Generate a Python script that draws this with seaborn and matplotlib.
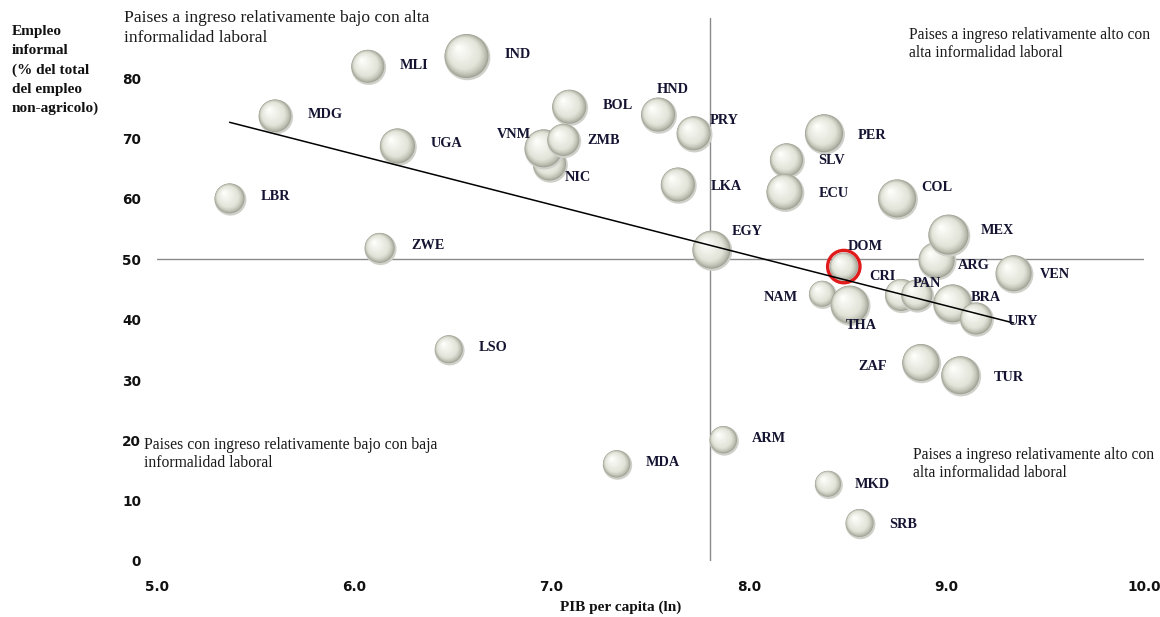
import numpy as np
import pandas as pd
import matplotlib
matplotlib.use("Agg")
import matplotlib.pyplot as plt
from matplotlib.colors import to_rgb
import seaborn as sns

# Country data: log GDP per capita, informal employment share, bubble weight
paises = ["MKD", "SRB", "MDA", "ARM", "LSO", "LBR", "ZWE", "MDG", "UGA", "MLI",
          "IND", "BOL", "NIC", "VNM", "ZMB", "HND", "PRY", "LKA", "EGY", "SLV",
          "PER", "ECU", "COL", "DOM", "NAM", "THA", "CRI", "PAN", "ARG", "MEX",
          "VEN", "BRA", "URY", "ZAF", "TUR"]
pib_ln = [8.40, 8.56, 7.33, 7.87, 6.48, 5.37, 6.13, 5.60, 6.22, 6.07,
          6.57, 7.09, 6.99, 6.96, 7.06, 7.54, 7.72, 7.64, 7.81, 8.19,
          8.38, 8.18, 8.75, 8.48, 8.37, 8.51, 8.77, 8.85, 8.95, 9.01,
          9.34, 9.03, 9.15, 8.87, 9.07]
informal = [12.8, 6.3, 16.1, 20.1, 35.1, 60.1, 51.9, 73.8, 68.8, 82.0,
            83.7, 75.3, 65.8, 68.4, 69.8, 74.0, 70.9, 62.4, 51.6, 66.5,
            70.9, 61.2, 60.1, 48.8, 44.3, 42.5, 44.1, 44.1, 49.9, 54.1,
            47.7, 42.7, 40.2, 32.9, 30.8]
peso = [13, 14, 13.7, 13.7, 14, 15, 15, 16.3, 17.5, 16.5,
        22, 17, 16.5, 19, 16, 17, 17, 17, 19, 16.5,
        19, 18, 19, 14, 13, 19, 16, 15.5, 18, 20,
        18, 19, 16, 18.5, 19]

x_ticks = [5.0, 6.0, 7.0, 8.0, 9.0, 10.0]
y_ticks = [0, 10, 20, 30, 40, 50, 60, 70, 80]
ref_pib = 7.8
ref_informal = 50
destacado = "DOM"

# label placement (offset in pixels from bubble centre, y down) and alignment
label_pos = {
    "IND": (38, -2, "left"), "MLI": (32, -1, "left"), "MDG": (33, -1, "left"),
    "UGA": (33, -2, "left"), "LBR": (31, -2, "left"), "ZWE": (32, -2, "left"),
    "LSO": (30, -2, "left"), "MDA": (29, -1, "left"), "ARM": (29, -1, "left"),
    "BOL": (33, -1, "left"), "VNM": (-13, -14, "right"), "NIC": (15, 13, "left"),
    "ZMB": (24, 1, "left"), "HND": (-1, -25, "left"), "PRY": (16, -13, "left"),
    "LKA": (33, 2, "left"), "EGY": (20, -18, "left"), "PER": (34, 2, "left"),
    "SLV": (32, 1, "left"), "ECU": (34, 2, "left"), "COL": (24, -11, "left"),
    "MEX": (32, -4, "left"), "ARG": (21, 6, "left"), "VEN": (26, 1, "left"),
    "DOM": (4, -20, "left"), "NAM": (-24, 4, "right"), "THA": (-4, 21, "left"),
    "CRI": (-6, -18, "right"), "PAN": (-4, -11, "left"), "BRA": (18, -6, "left"),
    "URY": (32, 3, "left"), "ZAF": (-34, 4, "right"), "TUR": (33, 2, "left"),
    "MKD": (27, 1, "left"), "SRB": (30, 2, "left"),
}

W, H, DPI = 1160, 617, 100
sns.set_theme(style="white")
plt.rcParams["font.family"] = ["Liberation Serif", "DejaVu Serif"]

fig = plt.figure(figsize=(W / DPI, H / DPI), dpi=DPI)
ax = fig.add_axes([156.5 / W, 56 / H, (1144 - 156.5) / W, (599 - 56) / H])
ax.set_xlim(5, 10)
ax.set_ylim(0, 90)

# pixel -> data scale factors
px_x = (10 - 5) / (1144 - 156.5)
px_y = 90 / (599 - 56)

# reference lines
ax.axhline(ref_informal, color="#8a8a8a", lw=1.0, zorder=1)
ax.axvline(ref_pib, color="#8a8a8a", lw=1.0, zorder=1)

# shaded spheres, one bubble at a time so overlaps occlude correctly
shadow_c = np.array(to_rgb("#cfd0c9"))
edge_c = np.array(to_rgb("#a0a295"))
body_c = np.array(to_rgb("#e2e4d9"))
hi_c = np.array(to_rgb("#fdfdf9"))
n_layers = 26
for i, (p, xv, yv, r) in enumerate(zip(paises, pib_ln, informal, peso)):
    rows = [{"x": xv + 0.8 * px_x, "y": yv - 1.2 * px_y, "capa": -1}]
    pal = {-1: tuple(shadow_c)}
    sz = {-1: (1.44 * (r + 1.0)) ** 2}
    for k in range(n_layers):
        t = k / (n_layers - 1)
        f = 1 - 0.9 * t
        shift = (1 - f) * 0.40 * r
        if t < 0.3:
            c = edge_c + (body_c - edge_c) * (t / 0.3) ** 0.7
        else:
            c = body_c + (hi_c - body_c) * ((t - 0.3) / 0.7) ** 1.0
        rows.append({"x": xv - shift * px_x, "y": yv + shift * px_y, "capa": k})
        pal[k] = tuple(c)
        sz[k] = (1.44 * r * f) ** 2
    df = pd.DataFrame(rows)
    sns.scatterplot(data=df, x="x", y="y", hue="capa", size="capa",
                    palette=pal, sizes=sz, linewidth=0, legend=False,
                    ax=ax, zorder=3 + i * 0.01)
    if p == destacado:
        sns.scatterplot(x=[xv], y=[yv], s=(1.44 * (r + 2.2)) ** 2,
                        facecolor="none", edgecolor="#e01b1b", linewidth=2.4,
                        ax=ax, zorder=3 + i * 0.01 + 0.005)

# linear trend
sns.regplot(x=np.array(pib_ln), y=np.array(informal), scatter=False, ci=None,
            truncate=True, color="black", line_kws={"lw": 1.1, "zorder": 10},
            ax=ax)

# country labels
for p, xv, yv in zip(paises, pib_ln, informal):
    dx, dy, ha = label_pos[p]
    ax.annotate(p, (xv, yv), xytext=(dx, -dy), textcoords="offset pixels",
                ha=ha, va="center", fontsize=10.3, fontweight="bold",
                color="#141432", zorder=12)

# axes styling
for s in ax.spines.values():
    s.set_visible(False)
ax.set_xticks(x_ticks)
ax.set_xticklabels([f"{v:.1f}" for v in x_ticks])
ax.set_yticks(y_ticks)
ax.set_yticklabels([str(v) for v in y_ticks])
ax.tick_params(axis="x", length=0, pad=14)
ax.tick_params(axis="y", length=0, pad=11)
for lab in ax.get_xticklabels() + ax.get_yticklabels():
    lab.set_fontfamily("DejaVu Sans")
    lab.set_fontweight("bold")
    lab.set_fontsize(9.8)
    lab.set_color("#111111")
ax.set_xlabel("")
ax.set_ylabel("")
ax.grid(False)

# axis titles
fig.text(621 / W, 1 - 607 / H, "PIB per capita (ln)", ha="center", va="center",
         fontsize=11, fontweight="bold", color="#111111")
fig.text(12 / W, 1 - 25 / H,
         "Empleo\ninformal\n(% del total\ndel empleo\nnon-agricolo)",
         ha="left", va="top", fontsize=11, fontweight="bold",
         linespacing=1.6, color="#111111")

# quadrant notes: (x px, top px, size, line spacing, text)
notas = [
    (124, 10, 12.6, 1.3, "Paises a ingreso relativamente bajo con alta\ninformalidad laboral"),
    (909, 27, 11.2, 1.2, "Paises a ingreso relativamente alto con\nalta informalidad laboral"),
    (144, 437, 11.3, 1.2, "Paises con ingreso relativamente bajo con baja\ninformalidad laboral"),
    (913, 447, 11.2, 1.2, "Paises a ingreso relativamente alto con\nalta informalidad laboral"),
]
for xp, yp, fs, ls, txt in notas:
    fig.text(xp / W, 1 - yp / H, txt, ha="left", va="top", fontsize=fs,
             linespacing=ls, color="#1a1a1a", zorder=12)

fig.savefig("out.png", dpi=DPI, facecolor="white")
